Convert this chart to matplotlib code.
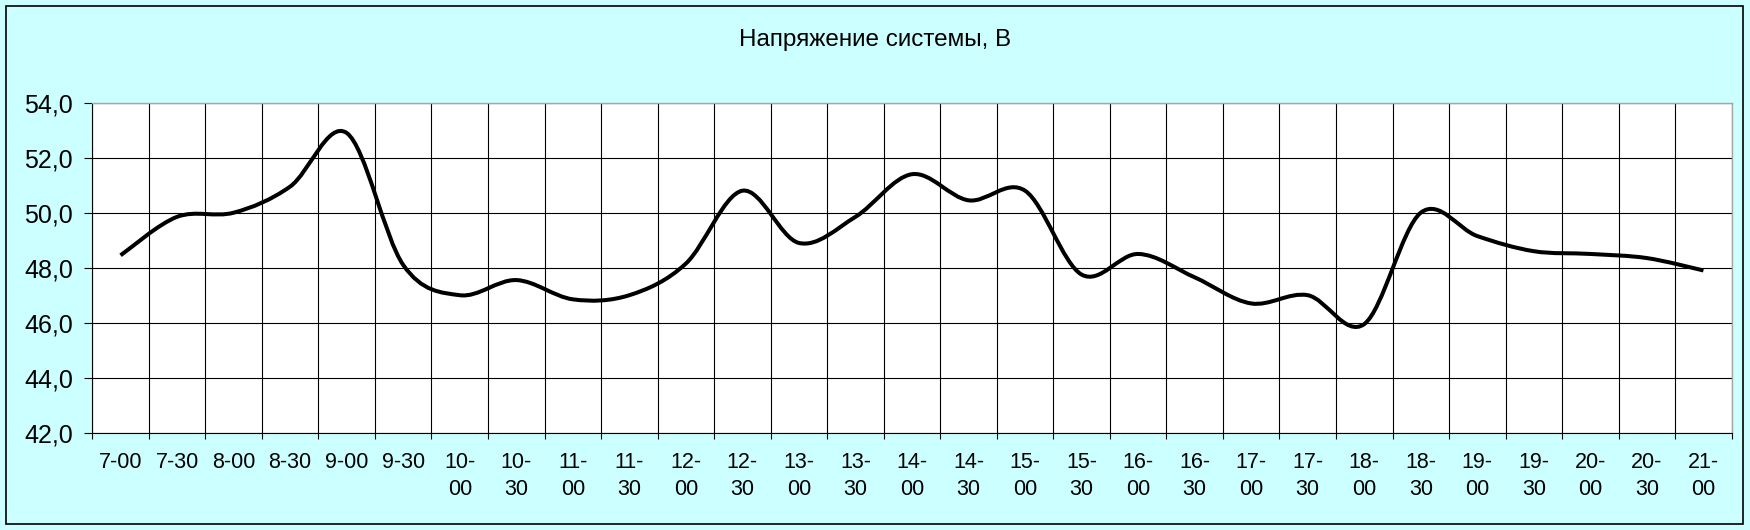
import numpy as np
import matplotlib
matplotlib.use("Agg")
import matplotlib.pyplot as plt
from matplotlib.path import Path
from matplotlib.patches import PathPatch, Rectangle

plt.rcParams['font.family'] = ['Liberation Sans', 'DejaVu Sans']

# время замера (подписи оси X)
times = ["7-00", "7-30", "8-00", "8-30", "9-00", "9-30",
         "10-\n00", "10-\n30", "11-\n00", "11-\n30", "12-\n00", "12-\n30",
         "13-\n00", "13-\n30", "14-\n00", "14-\n30", "15-\n00", "15-\n30",
         "16-\n00", "16-\n30", "17-\n00", "17-\n30", "18-\n00", "18-\n30",
         "19-\n00", "19-\n30", "20-\n00", "20-\n30", "21-\n00"]

# напряжение системы, В
voltage = [48.45, 49.85, 50.0, 50.95, 52.9, 48.1, 47.0, 47.55, 46.85, 47.0,
           48.15, 50.8, 48.9, 49.85, 51.4, 50.45, 50.8, 47.75, 48.5, 47.65,
           46.7, 47.0, 45.95, 50.0, 49.15, 48.6, 48.5, 48.35, 47.9]

y_ticks = [42, 44, 46, 48, 50, 52, 54]
y_labels = ["42,0", "44,0", "46,0", "48,0", "50,0", "52,0", "54,0"]


def smooth_path(xs, ys):
    # сглаженная линия как в Excel (кривые Безье через точки)
    pts = np.column_stack([xs, ys]).astype(float)
    n = len(pts)
    verts = [pts[0]]
    codes = [Path.MOVETO]
    for i in range(n - 1):
        p0 = pts[i - 1] if i > 0 else pts[i]
        p1 = pts[i]
        p2 = pts[i + 1]
        p3 = pts[i + 2] if i + 2 < n else pts[i + 1]
        verts += [p1 + (p2 - p0) / 6, p2 - (p3 - p1) / 6, p2]
        codes += [Path.CURVE4] * 3
    return Path(verts, codes)


W, H = 1750, 530
fig = plt.figure(figsize=(W / 100, H / 100), dpi=100, facecolor="#CCFFFF")

fig.patches.append(Rectangle((6 / W, 6 / H), 1737 / W, 518 / H, transform=fig.transFigure,
                             fill=False, edgecolor="black", lw=1.2))

ax = fig.add_axes([92.3 / W, (H - 432.7) / H, (1731.7 - 92.3) / W, 330 / H])
ax.set_facecolor("white")

x = np.arange(len(times))
ax.add_patch(PathPatch(smooth_path(x, voltage), facecolor="none", edgecolor="black",
                       lw=2.9, capstyle="butt", joinstyle="round", zorder=3))

ax.set_xlim(-0.5, len(times) - 0.5)
ax.set_ylim(42, 54)

ax.set_xticks(x)
ax.set_xticklabels(times, fontsize=15.5, linespacing=1.4)
ax.set_xticks(np.arange(-0.5, len(times), 1), minor=True)
ax.tick_params(axis="x", which="major", length=0, pad=13.8)
ax.tick_params(axis="x", which="minor", length=4.5, width=0.8, color="black")

ax.set_yticks(y_ticks)
ax.set_yticklabels(y_labels, fontsize=18)
ax.tick_params(axis="y", length=5.8, width=0.8, pad=8.2, color="black")

ax.grid(which="minor", axis="x", color="black", lw=0.8)
ax.grid(which="major", axis="y", color="black", lw=0.8)

for s in ["left", "bottom"]:
    ax.spines[s].set_color("black")
    ax.spines[s].set_linewidth(0.8)
for s in ["top", "right"]:
    ax.spines[s].set_color("#a6a6a6")
    ax.spines[s].set_linewidth(1.0)

fig.text(0.5, 1 - 40 / H, "Напряжение системы, В", ha="center", va="center", fontsize=17.5)

fig.savefig("out.png", dpi=100, facecolor=fig.get_facecolor())
